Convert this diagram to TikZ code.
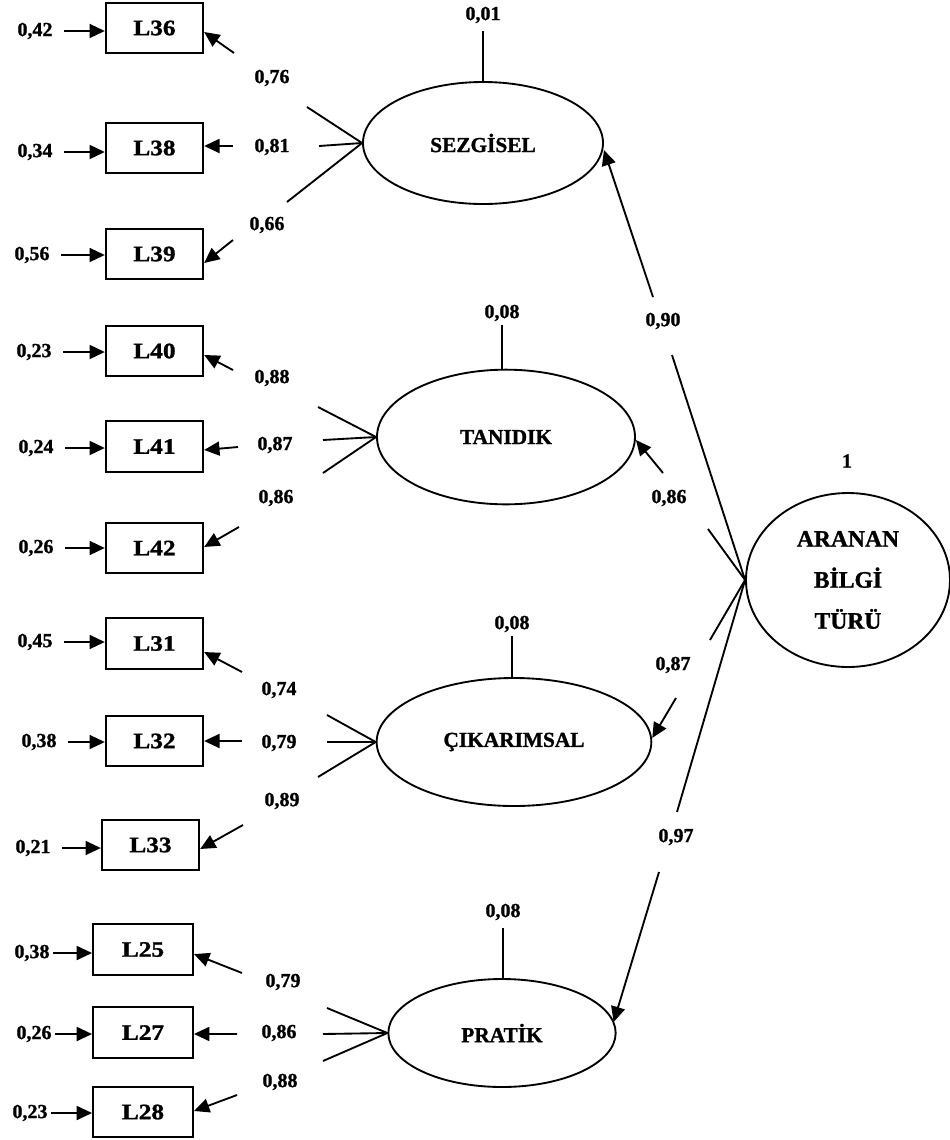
\documentclass[tikz,border=0pt]{standalone}
\usepackage{fontspec}
\usepackage{graphicx}
\setmainfont{Liberation Serif}[BoldFeatures={FakeBold=1.2}]
\usetikzlibrary{arrows.meta,shapes.geometric}
\newcommand\widelbl[1]{\scalebox{1.15}[1]{#1}}
\begin{document}
\begin{tikzpicture}[x=0.75pt,y=-0.75pt,
  ln/.style={line width=1.4pt},
  arr/.style={ln,-{Triangle[length=11.5pt,width=10.5pt]}},
  obs/.style={draw,line width=1.5pt,minimum width=73pt,minimum height=38pt,inner sep=0pt,
    font=\fontsize{16.5}{18}\selectfont\bfseries},
  lat/.style={draw,ellipse,line width=1.4pt,inner sep=0pt,
    font=\fontsize{16}{18}\selectfont\bfseries},
  val/.style={inner sep=0pt,font=\fontsize{15}{17}\selectfont\bfseries},
  errA/.style={arr,shorten <=8.5pt},
  errB/.style={arr,shorten <=2.5pt},
]
\useasboundingbox (0,0) rectangle (950,1140);

% ---------- latent variables ----------
\node[lat,minimum width=180pt,minimum height=91.5pt] (SEZ) at (483,143) {SEZG\.ISEL};
\node[lat,minimum width=193.5pt,minimum height=101pt] (TAN) at (506,437) {TANIDIK};
\node[lat,minimum width=206pt,minimum height=96pt] (CIK) at (514,742) {ÇIKARIMSAL};
\node[lat,minimum width=170.5pt,minimum height=81pt] (PRA) at (502,1033) {PRAT\.IK};
\node[lat,minimum width=153pt,minimum height=130.5pt,align=center,
      font=\fontsize{17.7}{30.75}\selectfont\bfseries] (ARA) at (848,580) {ARANAN\\B\.ILG\.I\\TÜRÜ};
\node[val] (v1) at (847,461) {1};

% ---------- observed variables ----------
\node[obs] (L36) at (154.5,28) {\widelbl{L36}};
\node[obs] (L38) at (154.5,148) {\widelbl{L38}};
\node[obs] (L39) at (154.5,254) {\widelbl{L39}};
\node[obs] (L40) at (154.5,351) {\widelbl{L40}};
\node[obs] (L41) at (154.5,446.5) {\widelbl{L41}};
\node[obs] (L42) at (154.5,548) {\widelbl{L42}};
\node[obs] (L31) at (154.5,643.5) {\widelbl{L31}};
\node[obs] (L32) at (154.5,741) {\widelbl{L32}};
\node[obs] (L33) at (150.5,845) {\widelbl{L33}};
\node[obs,minimum width=75pt] (L25) at (143,949.5) {\widelbl{L25}};
\node[obs,minimum width=75pt] (L27) at (143,1032.5) {\widelbl{L27}};
\node[obs,minimum width=75pt] (L28) at (143,1112) {\widelbl{L28}};

% ---------- measurement error terms ----------
\node[val] (e36) at (35,31) {0,42};
\node[val] (e38) at (35,152) {0,34};
\node[val] (e39) at (32,255) {0,56};
\node[val] (e40) at (34,352) {0,23};
\node[val] (e41) at (36,448) {0,24};
\node[val] (e42) at (36,548) {0,26};
\node[val] (e31) at (35,642) {0,45};
\node[val] (e32) at (39,742) {0,38};
\node[val] (e33) at (33,848) {0,21};
\node[val] (e25) at (32,953) {0,38};
\node[val] (e27) at (34,1034) {0,26};
\node[val] (e28) at (30,1113) {0,23};
\foreach \e/\b in {36/36,38/38,39/39,40/40,41/41,42/42,31/31,32/32,33/33}
  \draw[errA] (e\e.east) -- (e\e.east -| L\b.west);
\foreach \e/\b in {25/25,27/27,28/28}
  \draw[errB] (e\e.east) -- (e\e.east -| L\b.west);

% ---------- disturbances of the latent factors ----------
\node[val] (dSEZ) at (483,15) {0,01};
\node[val] (dTAN) at (502,313) {0,08};
\node[val] (dCIK) at (512,624) {0,08};
\node[val] (dPRA) at (503,912) {0,08};
\draw[ln,shorten <=6pt] (dSEZ.south) -- (dSEZ.south |- SEZ.north);
\draw[ln,shorten <=3pt] (dTAN.south) -- (dTAN.south |- TAN.north);
\draw[ln,shorten <=3pt] (dCIK.south) -- (dCIK.south |- CIK.north);
\draw[ln,shorten <=6pt] (dPRA.south) -- (dPRA.south |- PRA.north);

% ---------- loadings: SEZGISEL ----------
\coordinate (a1) at (307,107); \coordinate (a1t) at (234,53);
\coordinate (a2) at (319,146); \coordinate (a2t) at (233,146);
\coordinate (a3) at (287,202); \coordinate (a3t) at (233,240);
\draw[ln] (SEZ.west) -- (a1);
\draw[ln] (SEZ.west) -- (a2);
\draw[ln] (SEZ.west) -- (a3);
\draw[arr] (a1t) -- ([yshift=-3pt]L36.east);
\draw[arr] (a2t) -- ([yshift=1.5pt]L38.east);
\draw[arr] (a3t) -- ([yshift=-6.75pt]L39.east);
\node[val] at (272,78) {0,76};
\node[val] at (272,147) {0,81};
\node[val] at (267,225) {0,66};

% ---------- loadings: TANIDIK ----------
\coordinate (b1) at (318,407); \coordinate (b1t) at (233,370);
\coordinate (b2) at (323,440); \coordinate (b2t) at (238,447);
\coordinate (b3) at (323,473); \coordinate (b3t) at (239,527);
\draw[ln] (TAN.west) -- (b1);
\draw[ln] (TAN.west) -- (b2);
\draw[ln] (TAN.west) -- (b3);
\draw[arr] (b1t) -- ([yshift=-3pt]L40.east);
\draw[arr] (b2t) -- ([yshift=-2.6pt]L41.east);
\draw[arr] (b3t) -- ([yshift=0.75pt]L42.east);
\node[val] at (272,378) {0,88};
\node[val] at (275,445) {0,87};
\node[val] at (276,498) {0,86};

% ---------- loadings: CIKARIMSAL ----------
\coordinate (c1) at (327,715); \coordinate (c1t) at (242,672);
\coordinate (c2) at (327,742); \coordinate (c2t) at (242,741);
\coordinate (c3) at (318,777); \coordinate (c3t) at (243,825);
\draw[ln] (CIK.west) -- (c1);
\draw[ln] (CIK.west) -- (c2);
\draw[ln] (CIK.west) -- (c3);
\draw[arr] (c1t) -- ([yshift=-6.4pt]L31.east);
\draw[arr] (c2t) -- (L32.east);
\draw[arr] (c3t) -- ([yshift=-3pt]L33.east);
\node[val] at (279,690) {0,74};
\node[val] at (279,743) {0,79};
\node[val] at (282,801) {0,89};

% ---------- loadings: PRATIK ----------
\coordinate (d1) at (327,1008); \coordinate (d1t) at (242,973);
\coordinate (d2) at (323,1034); \coordinate (d2t) at (237,1034);
\coordinate (d3) at (323,1061); \coordinate (d3t) at (237,1095);
\draw[ln] (PRA.west) -- (d1);
\draw[ln] (PRA.west) -- (d2);
\draw[ln] (PRA.west) -- (d3);
\draw[arr] (d1t) -- ([yshift=-3.4pt]L25.east);
\draw[arr] (d2t) -- ([yshift=-1.1pt]L27.east);
\draw[arr] (d3t) -- ([yshift=0.75pt]L28.east);
\node[val] at (283,982) {0,79};
\node[val] at (279,1033) {0,86};
\node[val] at (280,1082) {0,88};

% ---------- second-order paths ----------
\coordinate (s1) at (672,355); \coordinate (s1t) at (653,297);
\coordinate (s2) at (708,529); \coordinate (s2t) at (663,473);
\coordinate (s3) at (710,640); \coordinate (s3t) at (676,698);
\coordinate (s4) at (677,812); \coordinate (s4t) at (659,872);
\draw[ln] (ARA.west) -- (s1);
\draw[ln] (ARA.west) -- (s2);
\draw[ln] (ARA.west) -- (s3);
\draw[ln] (ARA.west) -- (s4);
\draw[arr] (s1t) -- ([yshift=-5.25pt]SEZ.east);
\draw[arr] (s2t) -- ([yshift=-2.25pt]TAN.east);
\draw[arr] (s3t) -- ([yshift=3pt]CIK.east);
\draw[arr] (s4t) -- ([xshift=-2.25pt,yshift=8.25pt]PRA.east);
\node[val] at (663,321) {0,90};
\node[val] at (669,498) {0,86};
\node[val] at (673,665) {0,87};
\node[val] at (676,837) {0,97};
\end{tikzpicture}
\end{document}
